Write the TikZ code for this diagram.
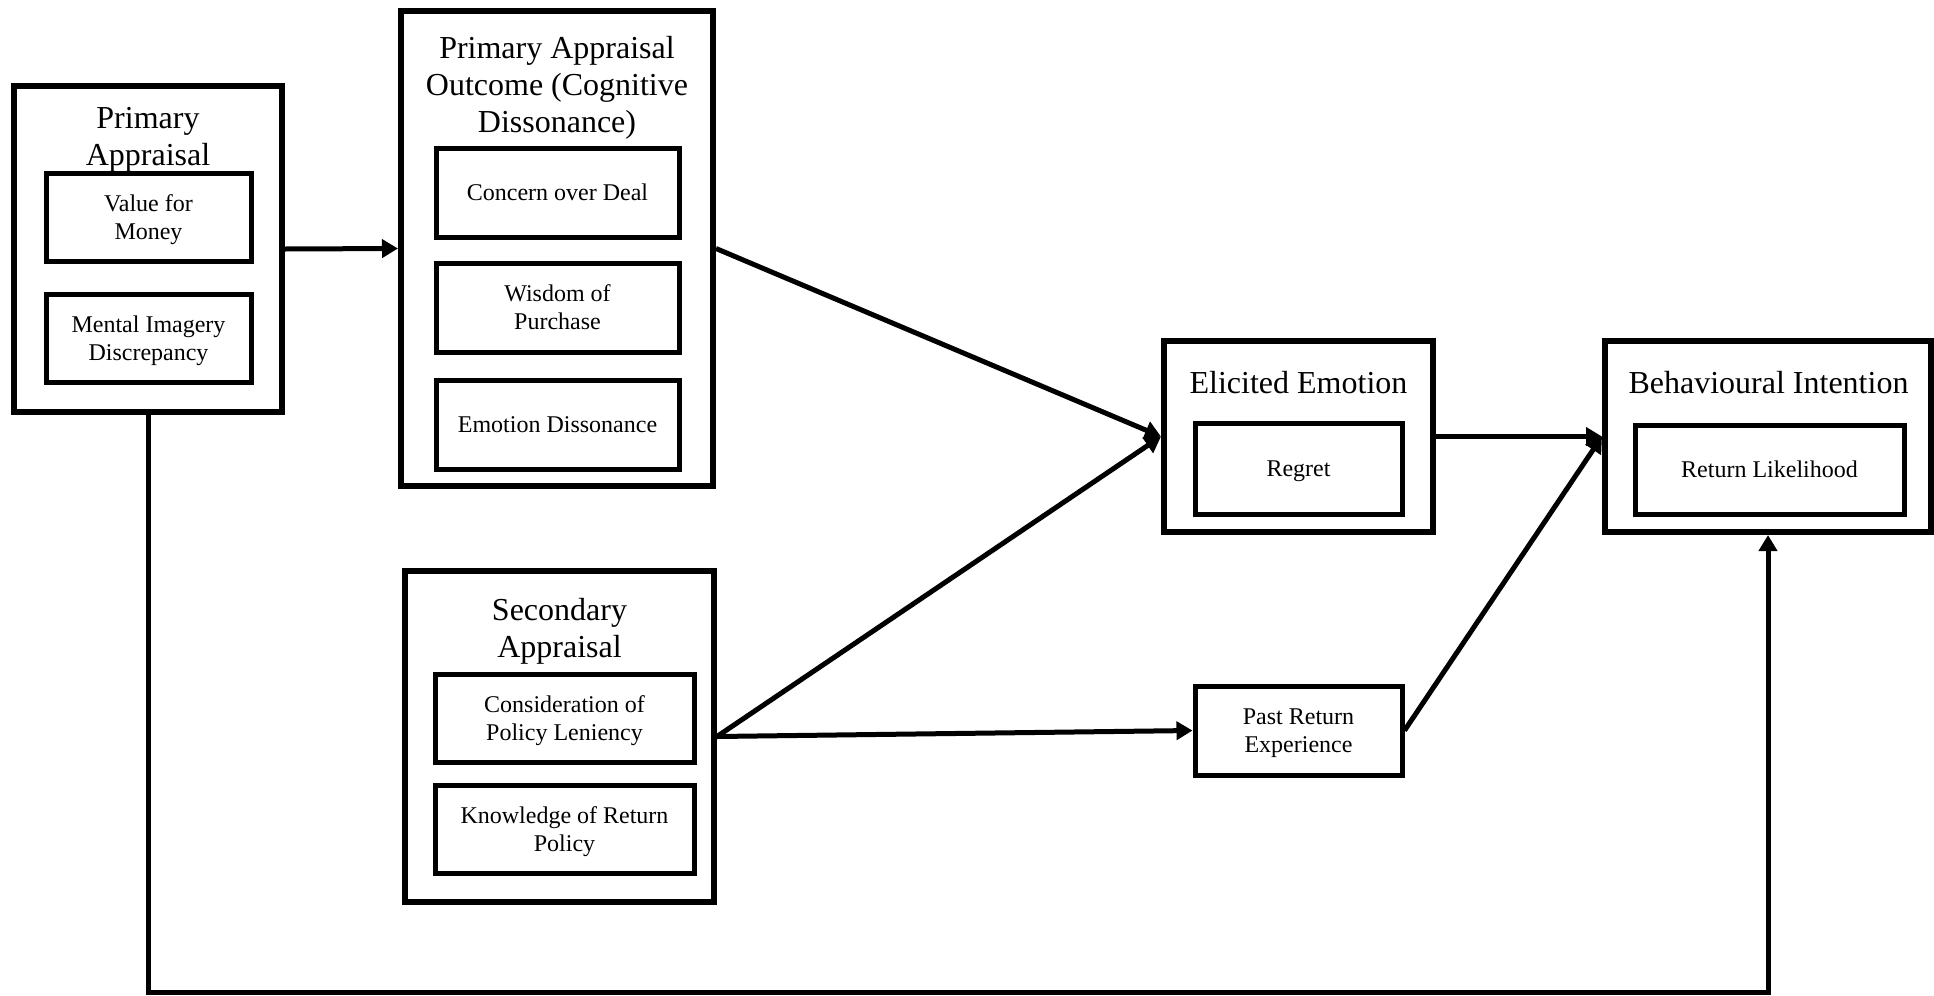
\documentclass[tikz,border=0pt]{standalone}
\usepackage{fontspec}
\setmainfont{Liberation Serif}
\usetikzlibrary{arrows.meta}
\begin{document}
\begin{tikzpicture}[x=0.5pt,y=-0.5pt,
  outerbox/.style={draw, line width=3pt, inner sep=0pt},
  innerbox/.style={draw, line width=2.5pt, align=center, inner sep=0pt,
    text depth=0pt, font=\fontsize{12}{14}\selectfont},
  % base anchor of a multi-line heading sits on its last line
  heading/.style={align=center, inner sep=0pt, anchor=base,
    font=\fontsize{16}{18.5}\selectfont},
  link/.style={line width=2.5pt, -{Triangle[length=8pt,width=9pt]}},
]
\useasboundingbox (0,0) rectangle (1934,996);

% Primary appraisal
\node[outerbox, minimum width=134pt, minimum height=163pt] (pa) at (148,249) {};
\node[heading] (patitle) at (148,165) {Primary\\Appraisal};
\node[innerbox, minimum width=102.5pt, minimum height=44pt] (vfm) at (148.5,217) {Value for\\Money};
\node[innerbox, minimum width=102.5pt, minimum height=44pt] (mid) at (148.5,338) {Mental Imagery\\Discrepancy};

% Primary appraisal outcome
\node[outerbox, minimum width=156pt, minimum height=237.5pt] (pao) at (557,248.5) {};
\node[heading] (paotitle) at (557,132) {Primary Appraisal\\Outcome (Cognitive\\Dissonance)};
\node[innerbox, minimum width=121.5pt, minimum height=44.5pt] (cod) at (557.5,192.5) {Concern over Deal};
\node[innerbox, minimum width=121.5pt, minimum height=44.5pt] (wop) at (557.5,307.5) {Wisdom of\\Purchase};
\node[innerbox, minimum width=121.5pt, minimum height=44.5pt] (emd) at (557.5,424.5) {Emotion Dissonance};

% Secondary appraisal
\node[outerbox, minimum width=154.5pt, minimum height=165.5pt] (sa) at (559.5,736.5) {};
\node[heading] (satitle) at (559.5,657) {Secondary\\Appraisal};
\node[innerbox, minimum width=129.5pt, minimum height=44pt] (cpl) at (564.5,718) {Consideration of\\Policy Leniency};
\node[innerbox, minimum width=129.5pt, minimum height=44pt] (krp) at (564.5,829.5) {Knowledge of Return\\Policy};

% Elicited emotion
\node[outerbox, minimum width=134.5pt, minimum height=95.5pt] (ee) at (1298.5,436.5) {};
\node[heading] (eetitle) at (1298.5,393) {Elicited Emotion};
\node[innerbox, minimum width=103.5pt, minimum height=45.5pt] (reg) at (1298.5,468.5) {Regret};

% Past return experience
\node[innerbox, minimum width=103.5pt, minimum height=44.5pt] (pre) at (1298.5,730.5) {Past Return\\Experience};

% Behavioural intention
\node[outerbox, minimum width=163pt, minimum height=95.5pt] (bi) at (1768,436.5) {};
\node[heading] (bititle) at (1768.5,393) {Behavioural Intention};
\node[innerbox, minimum width=134.5pt, minimum height=44.5pt] (rl) at (1769.5,469.5) {Return Likelihood};

% Connectors
\coordinate (floor) at (0,992);
\draw[link] (pa.east) -- (pao.west);
\draw[link] (pao.east) -- (ee.west);
\draw[link] (sa.east) -- (ee.west);
\draw[link] (sa.east) -- (pre.west);
\draw[link] (ee.east) -- (bi.west);
\draw[link] (pre.east) -- (bi.west);
\draw[link] (pa.south) -- (pa.south |- floor) -| (bi.south);
\end{tikzpicture}
\end{document}
